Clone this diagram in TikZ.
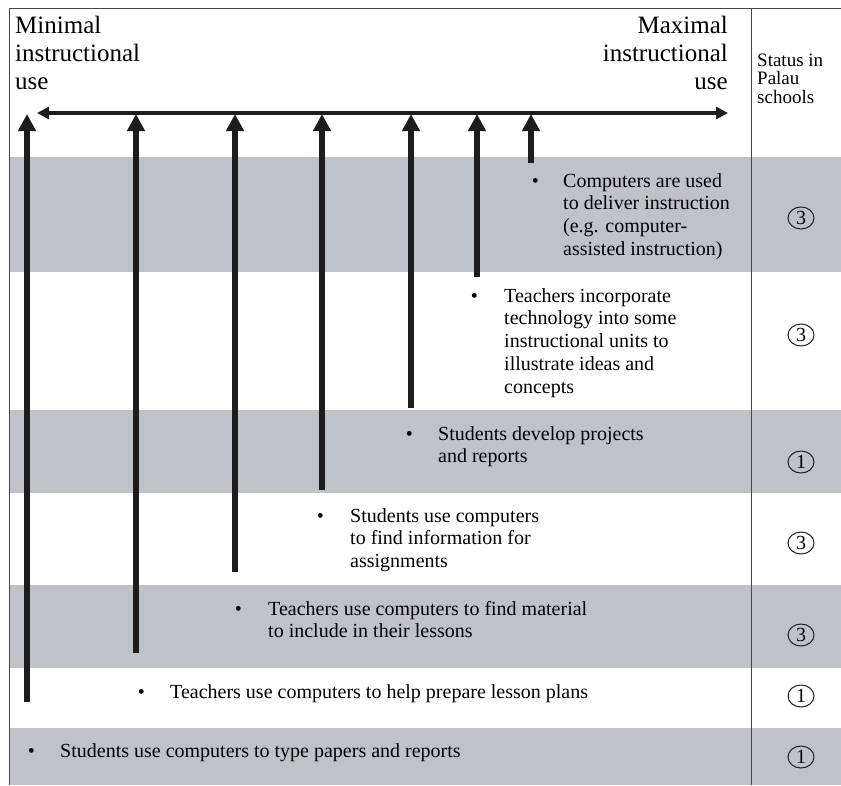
\documentclass[tikz,border=0pt]{standalone}
\usepackage{fontspec}
\setmainfont{Liberation Serif}
\usetikzlibrary{arrows.meta, positioning, shapes.geometric}
\definecolor{bandgray}{RGB}{191,195,201}
\definecolor{inkblack}{RGB}{30,28,29}
\definecolor{rulegray}{RGB}{70,70,70}
\newcommand{\lstack}[1]{\begin{tabular}[t]{@{}l@{}}#1\end{tabular}}
\newcommand{\rstack}[1]{\begin{tabular}[t]{@{}r@{}}#1\end{tabular}}

\begin{document}
\begin{tikzpicture}[x=1pt, y=-1pt,
        band/.style={fill=bandgray},
        rule/.style={draw=rulegray, line width=1pt},
        axis/.style={draw=inkblack, line width=3.5pt, {Triangle[length=12pt, width=12pt]}-{Triangle[length=12pt, width=12pt]}},
        stem/.style={draw=inkblack, line width=5.5pt, -{Triangle[length=17pt, width=17pt]}},
        head/.style={inner sep=0pt, font=\fontsize{25}{28}\selectfont},
        item/.style={anchor=base west, inner sep=0pt, font=\fontsize{20}{22.75}\selectfont},
        dot/.style={inner sep=0pt, font=\fontsize{20}{22.75}\selectfont},
        stat/.style={ellipse, draw=inkblack, line width=1pt, inner sep=0pt, minimum width=26pt, minimum height=22pt, font=\fontsize{20}{20}\selectfont}]

        \useasboundingbox (0,0) rectangle (841,785);

        % Shaded bands
        \fill[band] (9,157) rectangle (841,272);
        \fill[band] (9,410) rectangle (841,493);
        \fill[band] (9,585) rectangle (841,668);
        \fill[band] (9,728) rectangle (841,785);

        % Frame and status column
        \draw[rule] (9,785) -- (9,8) -- (841,8);
        \draw[rule] (751,8) -- (751,785);

        % Axis labels
        \node[head, anchor=base west] (minuse) at (15,33) {\lstack{Minimal\\instructional\\use}};
        \node[head, anchor=base east] (maxuse) at (728,33) {\rstack{Maximal\\instructional\\use}};
        \node[inner sep=0pt, anchor=base west, font=\fontsize{19}{18}\selectfont] (status) at (757,66) {\lstack{Status in\\Palau\\schools}};

        % Axis
        \coordinate (axisL) at (37,113);
        \coordinate (axisR) at (728,113);
        \draw[axis] (axisL) -- (axisR);
        \coordinate (axis) at (0,114);

        % Computers deliver instruction
        \node[item] (deliver) at (563,187) {\lstack{Computers are used\\to deliver instruction\\(e.g. computer-\\assisted instruction)}};
        \node[dot, base left=24pt of deliver] (bdeliver) {\textbullet};
        \node[stat] (sdeliver) at (801,218) {3};
        \coordinate (ldeliver) at (531,163);
        \draw[stem] (ldeliver) -- (ldeliver |- axis);

        % Technology in units
        \node[item] (units) at (504,302) {\lstack{Teachers incorporate\\technology into some\\instructional units to\\illustrate ideas and\\concepts}};
        \node[dot, base left=26pt of units] (bunits) {\textbullet};
        \node[stat] (sunits) at (801,335) {3};
        \coordinate (lunits) at (477,277);
        \draw[stem] (lunits) -- (lunits |- axis);

        % Projects and reports
        \node[item] (projects) at (438,440) {\lstack{Students develop projects\\and reports}};
        \node[dot, base left=25pt of projects] (bprojects) {\textbullet};
        \node[stat] (sprojects) at (801,462) {1};
        \coordinate (lprojects) at (411,408);
        \draw[stem] (lprojects) -- (lprojects |- axis);

        % Finding information
        \node[item] (findinfo) at (350,522) {\lstack{Students use computers\\to find information for\\assignments}};
        \node[dot, base left=26pt of findinfo] (bfindinfo) {\textbullet};
        \node[stat] (sfindinfo) at (801,543) {3};
        \coordinate (lfindinfo) at (322,490);
        \draw[stem] (lfindinfo) -- (lfindinfo |- axis);

        % Finding material
        \node[item] (material) at (268,615) {\lstack{Teachers use computers to find material\\to include in their lessons}};
        \node[dot, base left=26pt of material] (bmaterial) {\textbullet};
        \node[stat] (smaterial) at (801,635) {3};
        \coordinate (lmaterial) at (235,572);
        \draw[stem] (lmaterial) -- (lmaterial |- axis);

        % Lesson plans
        \node[item] (plans) at (170,698) {Teachers use computers to help prepare lesson plans};
        \node[dot, base left=25pt of plans] (bplans) {\textbullet};
        \node[stat] (splans) at (801,696) {1};
        \coordinate (lplans) at (136,653);
        \draw[stem] (lplans) -- (lplans |- axis);

        % Typing papers
        \node[item] (typing) at (60,757) {Students use computers to type papers and reports};
        \node[dot, base left=25pt of typing] (btyping) {\textbullet};
        \node[stat] (styping) at (801,757) {1};
        \coordinate (ltyping) at (27,702);
        \draw[stem] (ltyping) -- (ltyping |- axis);

    \end{tikzpicture}
\end{document}
